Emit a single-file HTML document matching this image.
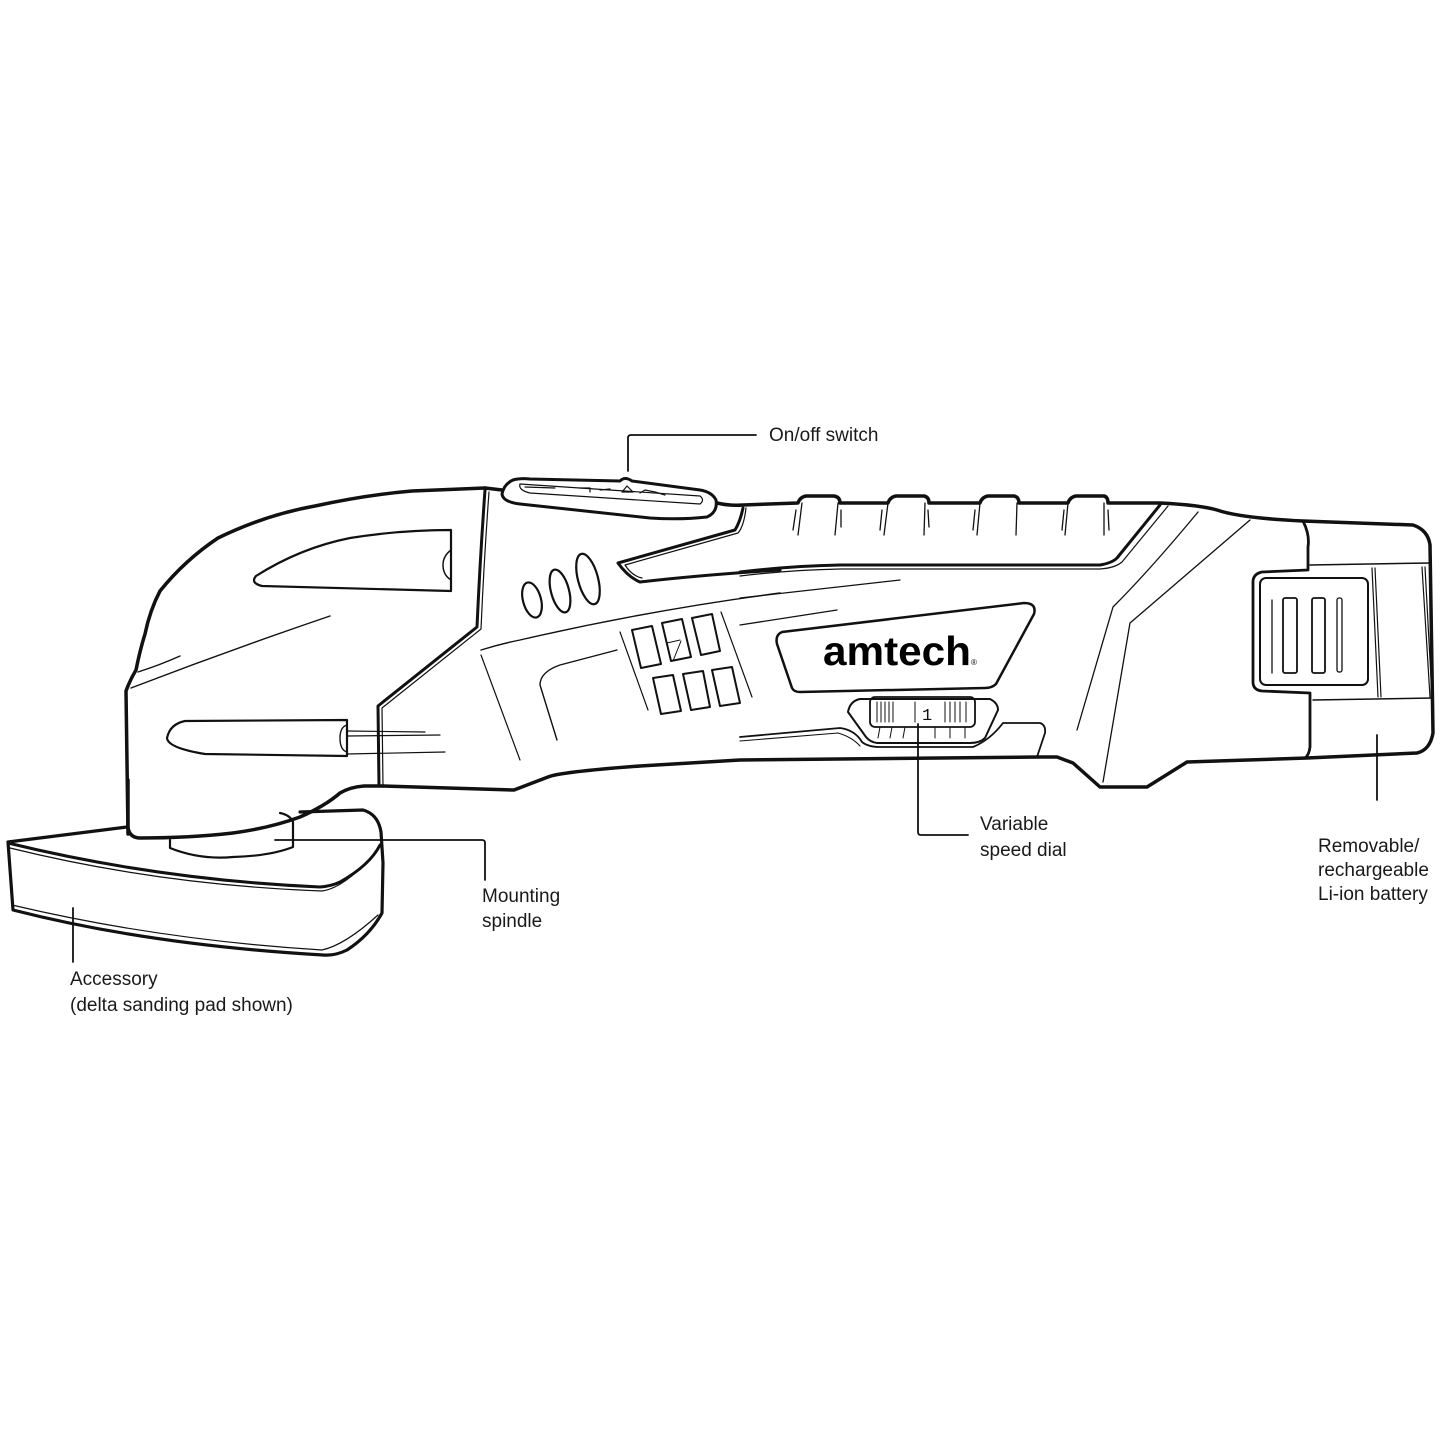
<!DOCTYPE html>
<html><head><meta charset="utf-8"><style>
html,body{margin:0;padding:0;background:#fff;}
svg{display:block;}
text{font-family:"Liberation Sans",Arial,sans-serif;fill:#1a1a1a;}
</style></head><body>
<svg width="1445" height="1445" viewBox="0 0 1445 1445" xmlns="http://www.w3.org/2000/svg">
<g fill="none" stroke="#111" stroke-linejoin="round" stroke-linecap="round">

<path d="M8,842 L127,827 M300,812 L363,810 Q378,814 381,832 L383,863 L382,913 Q370,935 347,950 Q335,956 323,955 Q150,945 13,910 L8,842" stroke-width="3.2"/>
<path d="M8,843 Q160,880 320,887 Q332,886 340,882 Q370,865 380,845" stroke-width="3"/>
<path d="M10,848 Q160,885 322,891 Q345,888 378,850" stroke-width="1.2"/>
<path d="M12,905 Q160,940 322,950 Q345,945 378,915" stroke-width="1.2"/>
<path d="M170,840 L170,848 Q200,860 233,857 Q270,856 293,847 L293,822 Q290,815 280,813" stroke-width="2.2"/>

<path d="M128,834 L126,691 Q130,680 136,670 Q140,650 145,634 Q150,610 160,591 Q185,560 218,538 Q265,515 315,506 Q365,495 412,491 L485,488" stroke-width="3.5"/>
<path d="M128,780 L128,828 Q130,838 140,838 Q190,838 233,833 Q270,828 300,817 Q325,806 340,793 Q350,787 364,786 L383,786" stroke-width="3.5"/>
<path d="M485,490 Q480,560 477,627 L378,706 L379,786" stroke-width="3"/>
<path d="M489,492 Q484,560 481,629 L382,708 L383,786" stroke-width="1.2"/>
<path d="M451,530 L451,591 L262,586 Q250,583 256,576 Q300,548 350,538 Q400,530 451,530 Z" stroke-width="2.2"/>
<path d="M451,550 Q443,556 443,565 Q443,575 451,580" stroke-width="1.5"/>
<path d="M131,688 Q230,650 330,616" stroke-width="1.4"/>
<path d="M138,672 Q160,665 180,656" stroke-width="1.4"/>
<path d="M347,720 L347,756 L205,754 Q168,748 167,738 Q170,724 185,721 Z" stroke-width="2.2"/>
<path d="M347,725 Q340,727 340,738 Q340,750 347,752" stroke-width="1.4"/>
<path d="M347,731 L425,732 M347,736 L440,735 M347,754 L445,752" stroke-width="1.2"/>

<path d="M485,488 L502,490 M717,503 Q730,506 743,505 L798,503 Q800,497 806,496 L834,496 Q840,497 840,503 L888,503 Q890,497 896,496 L924,496 Q929,497 929,503 L980,503 Q982,497 988,496 L1014,496 Q1019,497 1019,503 L1068,503 Q1070,497 1076,496 L1104,496 Q1108,497 1108,503 L1160,503 Q1200,505 1217,510 Q1240,518 1303,521 L1413,525 Q1428,530 1430,545 L1433,733 Q1430,750 1417,753 L1307,758 L1187,762 L1147,787 L1100,787 L1073,763 L1057,757 L1040,757 L740,760 L640,766 Q560,772 548,777 L514,790 L383,786" stroke-width="3.5"/>
<g stroke-width="1.3">
<path d="M802,503 L798,535 M796,510 L793,530 M838,503 L835,535 M841,510 L841,527"/>
<path d="M888,503 L884,535 M882,510 L880,530 M925,503 L924,535 M928,510 L929,527"/>
<path d="M980,503 L977,535 M975,510 L973,530 M1017,503 L1016,535"/>
<path d="M1068,503 L1065,535 M1064,510 L1062,530 M1104,503 L1104,535 M1108,510 L1109,530"/>
</g>
<path d="M740,572 Q790,566 840,565 L1100,565 Q1112,563 1117,558 L1160,505" stroke-width="3"/>
<path d="M740,576 Q790,570 840,569 L1100,569 Q1115,568 1122,562 L1168,506" stroke-width="1.2"/>
<path d="M513,480 Q520,478 530,479 L620,481 Q625,476 632,481 L700,490 Q712,492 716,500 Q718,512 707,517 Q680,520 650,518 L520,504 Q503,502 502,494 Q504,484 513,480 Z" stroke-width="3"/>
<path d="M520,484 L700,496 Q705,500 700,504 L530,493 Q518,490 520,484 Z" stroke-width="1.2"/>
<path d="M525,487 L555,488 M580,488 L590,488 L590,492 M600,490 L610,489 M622,492 L627,486 L633,492 Z M640,493 L645,490 L655,492 L665,495" stroke-width="1.2"/>
<path d="M743,508 Q740,522 735,530 L618,563 Q628,577 640,582 Q700,575 780,570" stroke-width="3"/>
<path d="M746,508 Q744,526 738,533 L625,565 Q632,576 642,578" stroke-width="1.2"/>
<g stroke-width="2.2">
<ellipse cx="532" cy="600" rx="9" ry="18" transform="rotate(-15 532 600)"/>
<ellipse cx="560" cy="591" rx="9" ry="22" transform="rotate(-15 560 591)"/>
<ellipse cx="588" cy="579" rx="10" ry="26" transform="rotate(-15 588 579)"/>
</g>
<path d="M481,650 Q500,644 520,640 Q650,610 780,593" stroke-width="1.4"/>
<path d="M617,650 L560,665 Q540,672 540,685 L557,740" stroke-width="1.4"/>
<path d="M481,655 L520,760" stroke-width="1.2"/>
<path d="M740,598 L900,580 M740,625 L837,610" stroke-width="1.3"/>
<g stroke-width="2">
<path d="M632,630 L652,626 L661,664 L641,668 Z"/>
<path d="M662,623 L682,619 L691,657 L671,661 Z"/>
<path d="M692,618 L712,614 L720,651 L701,655 Z"/>
<path d="M653,678 L673,675 L681,711 L661,714 Z"/>
<path d="M683,674 L703,671 L710,707 L691,710 Z"/>
<path d="M712,670 L732,667 L740,703 L720,706 Z"/>
</g>
<path d="M667,643 L680,640 M673,661 L681,641" stroke-width="1"/>
<path d="M620,632 L648,710 M721,612 L752,697" stroke-width="1.2"/>
<path d="M782,632 L1024,603 Q1037,603 1034,614 L996,684 Q992,688 985,688 L800,692 Q794,692 792,688 L777,644 Q775,635 782,632 Z" stroke-width="2.5"/>
<path d="M860,699 L990,699 Q998,703 998,710 L985,738 Q980,743 970,743 L877,743 Q870,742 866,737 L848,712 Q850,701 860,699 Z" stroke-width="2"/>
<rect x="870" y="697" width="105" height="30" rx="5" stroke-width="1.8"/>
<g stroke-width="1">
<path d="M877,702 L877,722 M881,702 L881,722 M885,702 L885,722 M889,702 L889,722 M893,702 L893,722 M915,702 L915,722 M945,702 L945,722 M950,702 L950,722 M955,702 L955,722 M960,702 L960,722 M966,702 L966,722"/>
<path d="M880,727 L878,738 M892,727 L890,738 M905,727 L903,738 M918,727 L918,738 M935,727 L935,738 M950,727 L950,738 M965,727 L965,738"/>
</g>
<path d="M740,737 L840,728 Q855,730 862,742 Q868,747 880,747 L973,747 Q990,740 1003,723 L1040,723 Q1046,725 1045,733 L1037,757" stroke-width="1.8"/>
<path d="M740,741 L838,733 Q852,737 860,746" stroke-width="1.1"/>
<path d="M1198,512 Q1150,570 1113,607 L1077,730" stroke-width="1.3"/>
<path d="M1250,520 Q1180,580 1130,623 L1103,782" stroke-width="1.3"/>
<path d="M1303,521 Q1310,535 1308,547 L1308,570 L1262,572 Q1253,574 1253,582 L1253,682 Q1253,690 1262,691 L1310,693 L1310,747 Q1309,755 1305,758" stroke-width="2.8"/>
<path d="M1310,565 L1430,563 M1313,700 L1433,698" stroke-width="1.5"/>
<rect x="1260" y="578" width="108" height="107" rx="6" stroke-width="2"/>
<path d="M1372,568 L1378,697 M1375,568 L1381,697 M1422,567 L1430,697 M1425,567 L1432,697" stroke-width="1.2"/>
<path d="M1272,600 L1272,673" stroke-width="1.3"/>
<rect x="1283" y="598" width="14" height="75" rx="2" stroke-width="1.8"/>
<rect x="1312" y="598" width="13" height="75" rx="2" stroke-width="1.8"/>
<rect x="1337" y="598" width="5" height="74" rx="2" stroke-width="1.3"/>

<g stroke-width="1.8">
<path d="M628,471 L628,438 Q628,435 631,435 L756,435"/>
<path d="M918,724 L918,832 Q918,835 921,835 L968,835"/>
<path d="M1377,735 L1377,800"/>
<path d="M275,840 L482,840 Q485,840 485,843 L485,880"/>
<path d="M73,908 L73,962"/>
</g>
</g>

<text x="823" y="665" font-size="41" font-weight="bold" textLength="148" lengthAdjust="spacingAndGlyphs" style="fill:#000">amtech</text>
<text x="971" y="665" font-size="8" style="fill:#000">®</text>
<text x="922" y="720" font-size="17" style="font-family:'Liberation Mono',monospace;fill:#111">1</text>

<g font-size="19">
<text x="769" y="441">On/off switch</text>
<text x="980" y="830">Variable</text>
<text x="980" y="856">speed dial</text>
<text x="1318" y="852">Removable/</text>
<text x="1318" y="876">rechargeable</text>
<text x="1318" y="900">Li-ion battery</text>
<text x="482" y="902">Mounting</text>
<text x="482" y="927">spindle</text>
<text x="70" y="985">Accessory</text>
<text x="70" y="1011">(delta sanding pad shown)</text>
</g>
</svg>
</body></html>
